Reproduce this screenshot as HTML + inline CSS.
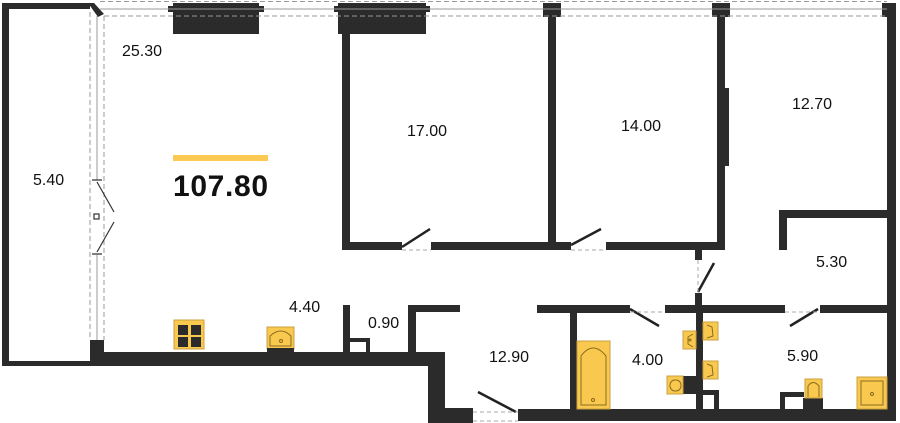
<!DOCTYPE html>
<html><head><meta charset="utf-8"><style>
html,body{margin:0;padding:0;background:#fff;}
svg{display:block;}
text{font-family:"Liberation Sans",sans-serif;fill:#111;}
</style></head><body>
<svg width="900" height="423" viewBox="0 0 900 423" xmlns="http://www.w3.org/2000/svg">
<g fill="#2b2b2b">
<rect x="2" y="3" width="7" height="363"/>
<rect x="2" y="3" width="88" height="6"/>
<polygon points="88,3 94,3 104,14 98,17"/>
<rect x="2" y="361" width="92" height="5"/>
<rect x="90" y="352" width="355" height="14"/>
<rect x="90" y="340" width="14" height="26"/>
<rect x="428" y="352" width="17" height="71"/>
<rect x="428" y="408" width="45" height="15"/>
<rect x="518" y="409" width="377" height="12"/>
<rect x="173" y="3" width="86" height="31"/>
<rect x="168" y="6" width="96" height="6"/>
<rect x="338" y="3" width="88" height="31"/>
<rect x="334" y="6" width="96" height="6"/>
<rect x="342" y="3" width="8" height="247"/>
<rect x="342" y="242" width="60" height="8"/>
<rect x="431" y="242" width="140" height="8"/>
<rect x="606" y="242" width="119" height="8"/>
<rect x="548" y="3" width="8" height="247"/>
<rect x="543" y="3" width="18" height="14"/>
<rect x="717" y="3" width="8" height="247"/>
<rect x="712" y="3" width="18" height="14"/>
<rect x="725" y="88" width="4" height="78"/>
<rect x="887" y="3" width="9" height="418"/>
<rect x="882" y="3" width="14" height="14"/>
<rect x="779" y="210" width="116" height="8"/>
<rect x="779" y="210" width="8" height="40"/>
<rect x="695" y="250" width="7" height="10"/>
<rect x="695" y="293" width="7" height="20"/>
<rect x="537" y="305" width="93" height="8"/>
<rect x="665" y="305" width="120" height="8"/>
<rect x="820" y="305" width="70" height="8"/>
<rect x="570" y="305" width="7" height="105"/>
<rect x="696" y="305" width="7" height="105"/>
<rect x="703" y="390" width="16" height="5"/><rect x="714" y="390" width="5" height="20"/>
<rect x="676" y="376" width="20" height="18"/>
<rect x="408" y="305" width="52" height="7"/>
<rect x="408" y="305" width="8" height="47"/>
<rect x="343" y="305" width="7" height="48"/>
<rect x="350" y="338" width="20" height="4"/><rect x="366" y="338" width="4" height="15"/>
<rect x="780" y="392" width="24" height="5"/><rect x="780" y="392" width="5" height="18"/>
<rect x="803" y="398" width="20" height="12"/>
</g>
<g stroke="#999" stroke-width="1" fill="none">
<line x1="100" y1="1.5" x2="887" y2="1.5" stroke-dasharray="5,3"/>
<line x1="100" y1="9" x2="887" y2="9"/>
<line x1="104" y1="16" x2="887" y2="16" stroke-dasharray="5,3"/>
<line x1="90" y1="12" x2="90" y2="340" stroke-dasharray="5,3"/>
<line x1="97" y1="16" x2="97" y2="180"/>
<line x1="97" y1="255" x2="97" y2="340"/>
<line x1="104" y1="16" x2="104" y2="340" stroke-dasharray="5,3"/>
</g>
<g stroke="#333" stroke-width="1.2" fill="none">
<path d="M92,180 L102,180 M97,182 L114,212 M92,254 L102,254 M97,252 L114,222"/>
<rect x="94" y="214" width="5" height="5"/>
</g>
<g stroke="#222" stroke-width="2.5" fill="none">
<line x1="402" y1="247" x2="430" y2="229"/>
<line x1="571" y1="245" x2="601" y2="229"/>
<line x1="698" y1="292" x2="714" y2="263"/>
<line x1="630" y1="309" x2="659" y2="326"/>
<line x1="790" y1="326" x2="818" y2="309"/>
<line x1="478" y1="392" x2="516" y2="412"/>
</g>
<g stroke="#aaa" stroke-width="1" fill="none" stroke-dasharray="4,3">
<line x1="402" y1="250" x2="431" y2="250"/>
<line x1="571" y1="250" x2="606" y2="250"/>
<line x1="698" y1="260" x2="698" y2="293"/>
<line x1="630" y1="312" x2="665" y2="312"/>
<line x1="785" y1="312" x2="820" y2="312"/>
<line x1="473" y1="412" x2="518" y2="412"/>
<line x1="473" y1="421" x2="518" y2="421"/>
</g>
<g fill="#f9c94f" stroke="#c9a040" stroke-width="1">
<rect x="174" y="320" width="30" height="29"/>
<rect x="267" y="327" width="27" height="22"/>
<rect x="577" y="341" width="33" height="68"/>
<rect x="683" y="331" width="13" height="18"/>
<rect x="703" y="322" width="15" height="18"/>
<rect x="703" y="361" width="15" height="18"/>
<rect x="667" y="376" width="16" height="18"/>
<rect x="805" y="379" width="17" height="19"/>
<rect x="857" y="377" width="30" height="32"/>
</g>
<g fill="#2b2b2b">
<rect x="178" y="325" width="10" height="10"/><rect x="191" y="325" width="10" height="10"/>
<rect x="178" y="337" width="10" height="10"/><rect x="191" y="337" width="10" height="10"/>
<rect x="267" y="348" width="27" height="4"/>
</g>
<g fill="none" stroke="#8a6a20" stroke-width="1">
<path d="M270,346 L270,336 Q281,326 291,336 L291,346 Z"/>
<circle cx="281" cy="341" r="1.5"/>
<path d="M581,405 L581,356 Q593,340 606,356 L606,405 Z"/>
<circle cx="593" cy="400" r="1.5"/>
<path d="M693,334 L688,337 L688,344 L693,347"/><circle cx="690" cy="340" r="1"/>
<path d="M707,325 L712,327 L713,336 L707,338"/>
<path d="M707,364 L712,366 L713,375 L707,377"/>
<rect x="670" y="380" width="11" height="11" rx="5"/>
<path d="M808,397 L808,386 Q813,379 819,386 L819,397"/>
<rect x="861" y="381" width="22" height="24"/>
<circle cx="872" cy="394" r="1.5"/>
</g>
<rect x="173" y="155" width="95" height="6" fill="#fcc952"/>
<text x="173" y="196" font-size="30" font-weight="bold" textLength="95">107.80</text>
<g font-size="16">
<text x="122" y="56">25.30</text>
<text x="33" y="185">5.40</text>
<text x="407" y="136">17.00</text>
<text x="621" y="131">14.00</text>
<text x="792" y="109">12.70</text>
<text x="816" y="267">5.30</text>
<text x="289" y="312">4.40</text>
<text x="368" y="328">0.90</text>
<text x="489" y="362">12.90</text>
<text x="632" y="365">4.00</text>
<text x="787" y="361">5.90</text>
</g>
</svg>
</body></html>
